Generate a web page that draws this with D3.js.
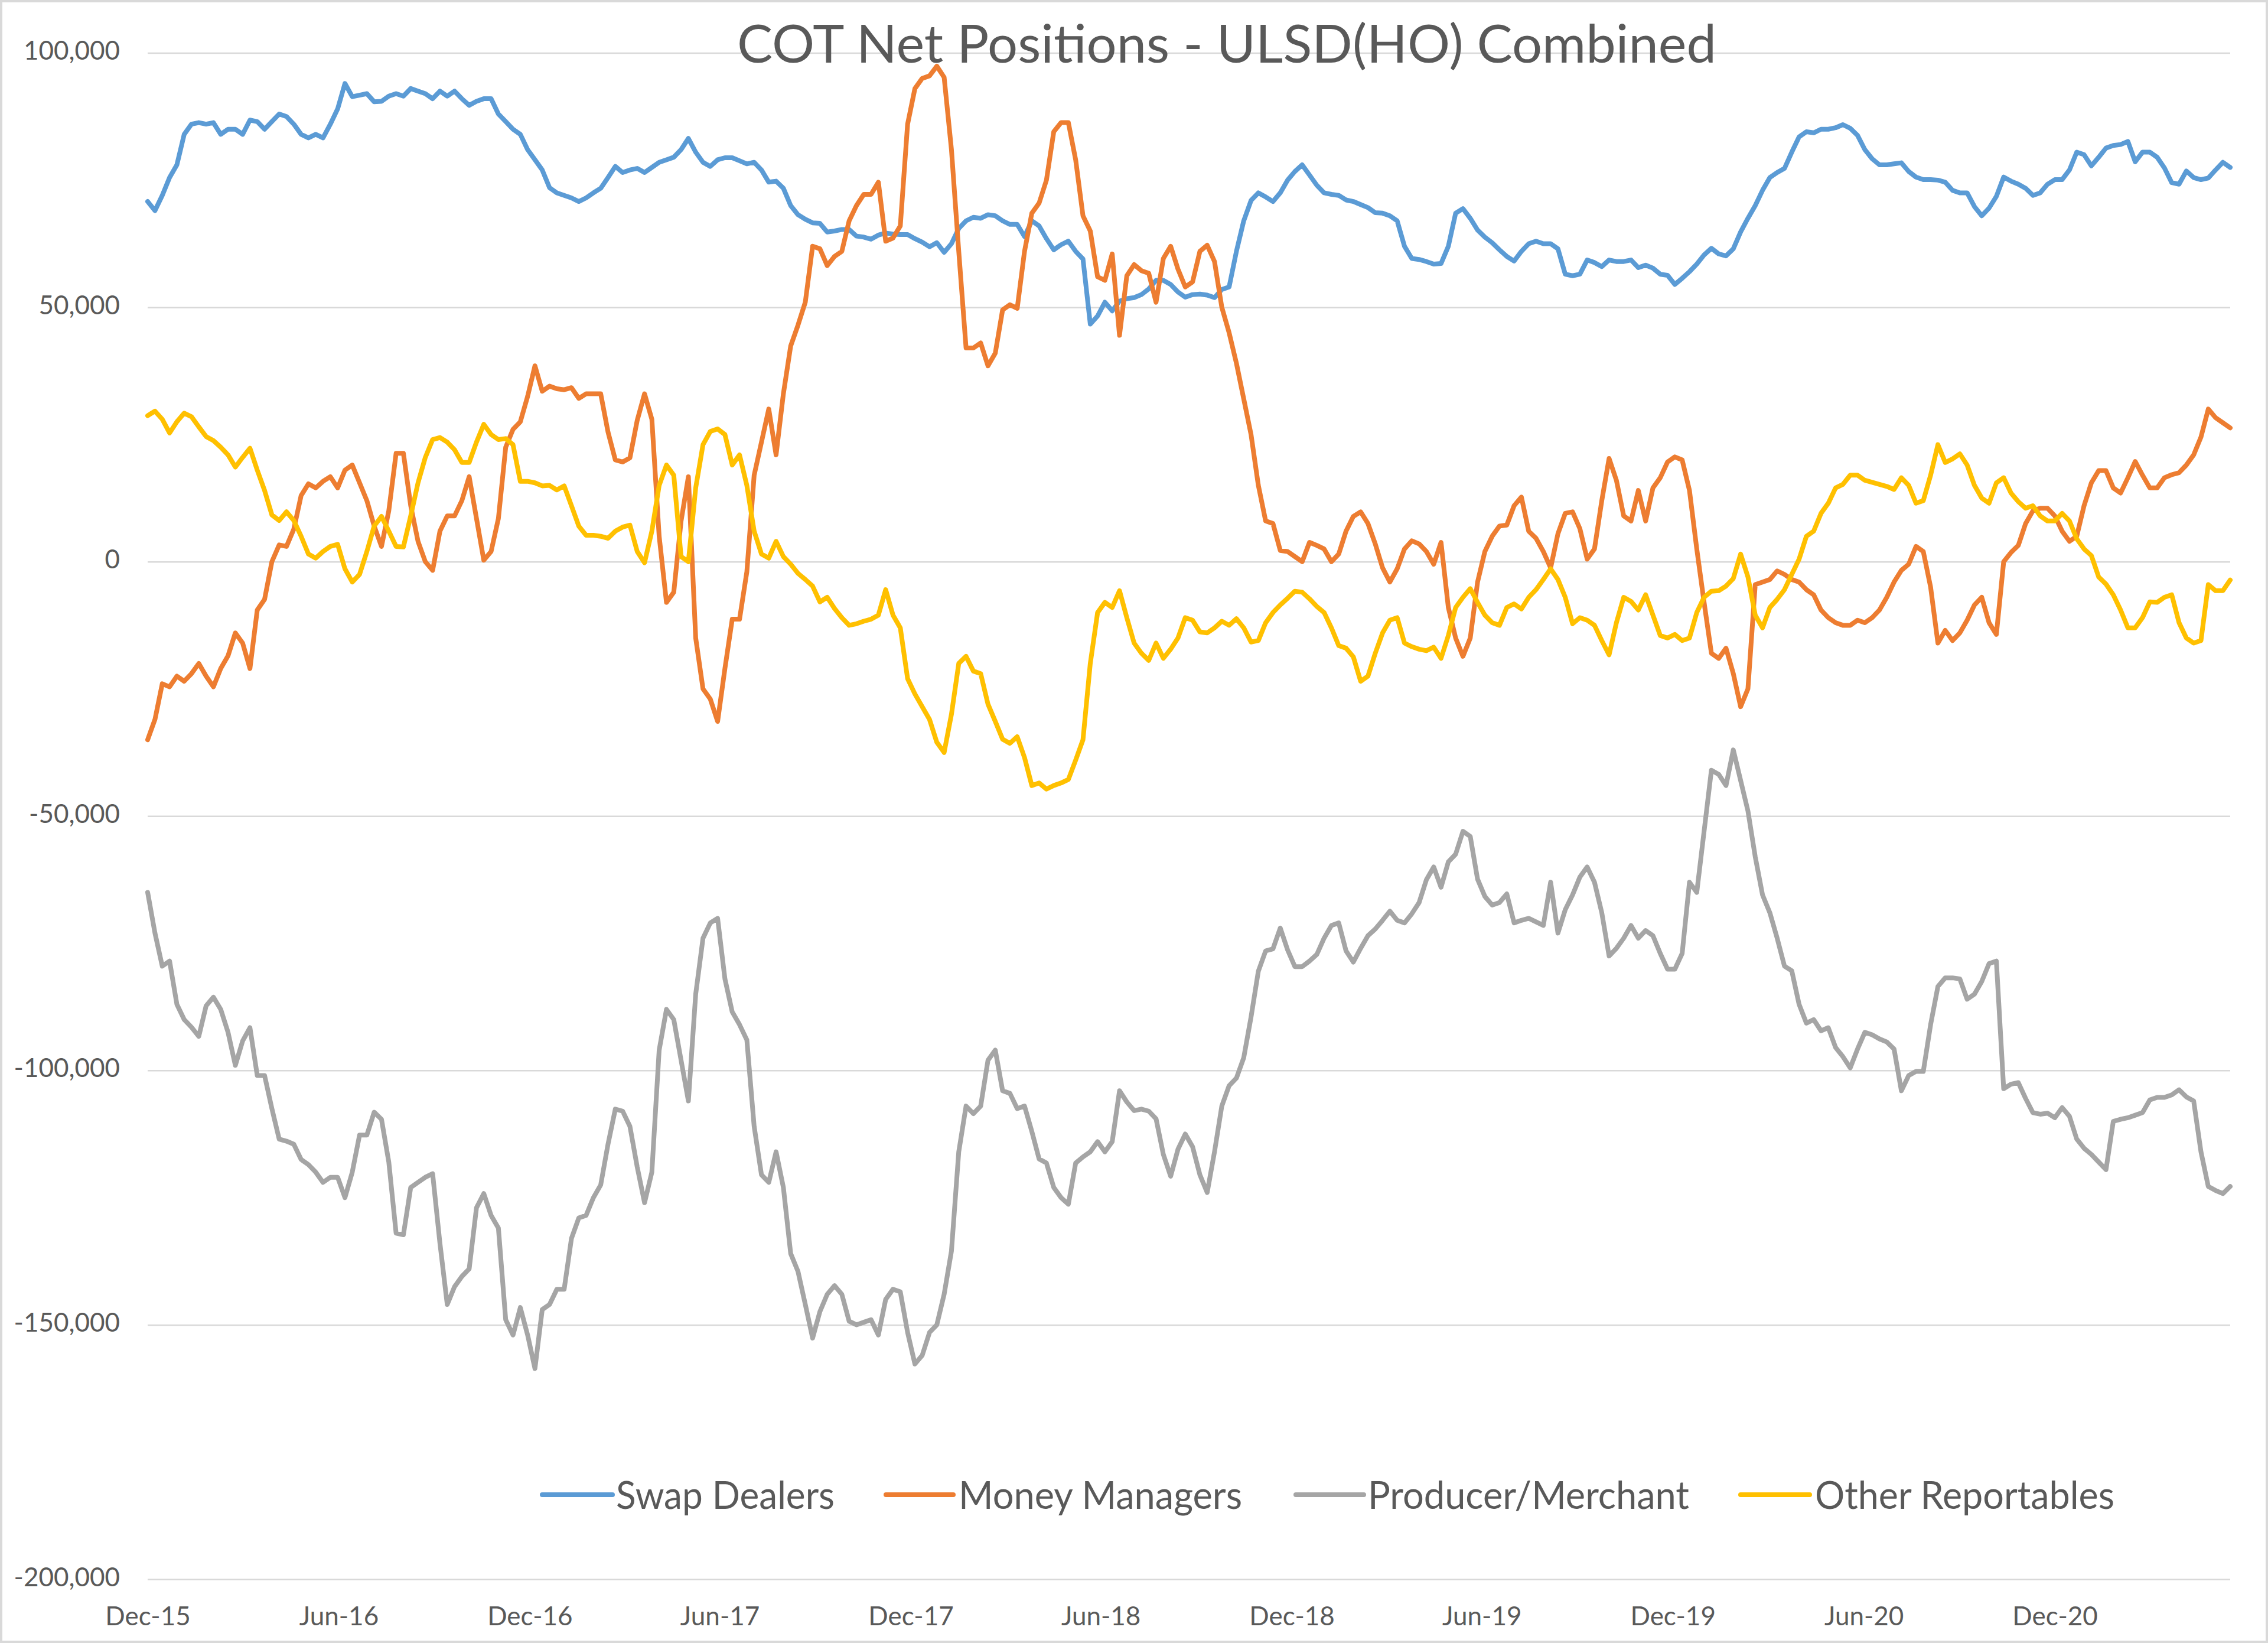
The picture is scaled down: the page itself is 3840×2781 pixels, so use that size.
<!DOCTYPE html>
<html>
<head>
<meta charset="utf-8">
<script src="https://cdn.jsdelivr.net/npm/d3@7"></script>
<style>
  html, body { margin: 0; padding: 0; background: #ffffff; }
  svg { display: block; }
</style>
</head>
<body>
<svg id="chart" width="3840" height="2781"></svg>
<script>
// ---------------- DATA ----------------
const chartTitle = "COT Net Positions - ULSD(HO) Combined";
const seriesNames = ["Swap Dealers", "Money Managers", "Producer/Merchant", "Other Reportables"];
const seriesColors = ["#5B9BD5", "#ED7D31", "#A5A5A5", "#FFC000"];

// Weekly (Tuesday) report dates start here, one value per week
const firstReportDate = "2015-12-01";

// Net positions, thousands of contracts
const swapDealers = [
  70.8, 69, 72, 75.5, 78, 84, 86, 86.3, 86, 86.3,
  84, 85, 85, 84, 86.8, 86.5, 85, 86.5, 88, 87.5,
  86, 84, 83.3, 84, 83.3, 86, 89, 94, 91.4, 91.7,
  92, 90.4, 90.5, 91.5, 92, 91.5, 93, 92.5, 92, 91,
  92.5, 91.5, 92.5, 91, 89.7, 90.5, 91, 91, 88, 86.5,
  85, 84, 81, 79, 77, 73.5, 72.5,
  72, 71.5, 70.8, 71.5, 72.5, 73.4, 75.5, 77.7, 76.5, 77,
  77.3, 76.5, 77.5, 78.5, 79, 79.5, 81, 83.2, 80.5, 78.5,
  77.7, 79, 79.4, 79.4, 78.8, 78.2, 78.5, 77, 74.6, 74.8,
  73.4, 70, 68.2, 67.3, 66.6, 66.5, 64.8, 65, 65.3, 65.3,
  64, 63.8, 63.4, 64.2, 64.6, 64.4, 64.3, 64.3, 63.5, 62.8,
  61.9, 62.7, 60.8, 62.5, 65.5, 67, 67.7,
  67.5, 68.2, 68, 67, 66.3, 66.3, 63.9, 67, 66, 63.5,
  61.3, 62.3, 63, 61, 59.5, 46.7, 48.3, 51, 49.3, 51.2,
  51.7, 51.9, 52.5, 53.6, 55.3, 55.3, 54.5, 53, 52, 52.5,
  52.6, 52.4, 51.9, 53.5, 54, 61, 67, 71, 72.5, 71.7,
  70.8, 72.5, 75, 76.7, 78, 76, 74, 72.5, 72.2, 72,
  71.1, 70.8, 70.2, 69.6, 68.6, 68.5, 68,
  67, 62, 59.6, 59.4, 59, 58.5, 58.6, 62, 68.5, 69.4,
  67.5, 65.2, 63.8, 62.7, 61.3, 60, 59.1, 61, 62.5, 63,
  62.5, 62.5, 61.5, 56.5, 56.2, 56.5, 59.3, 58.8, 58, 59.3,
  59, 59, 59.3, 57.8, 58.3, 57.7, 56.5, 56.3, 54.5, 55.7,
  57, 58.5, 60.3, 61.6, 60.5, 60.1, 61.5, 64.8, 67.5, 70,
  73, 75.5, 76.5, 77.3, 80.5, 83.5, 84.5,
  84.3, 85, 85, 85.3, 85.9, 85.2, 83.8, 81, 79.2, 78,
  78, 78.2, 78.4, 76.7, 75.6, 75.1, 75.1, 75, 74.6, 73,
  72.5, 72.5, 69.8, 68, 69.5, 71.8, 75.6, 74.8, 74.2, 73.4,
  72, 72.5, 74.2, 75.1, 75.1, 77, 80.5, 80, 77.8, 79.5,
  81.3, 81.8, 82, 82.6, 78.6, 80.5, 80.5, 79.5, 77.4, 74.5,
  74.2, 76.8, 75.5, 75.1, 75.4, 77, 78.5, 77.5
];

const moneyManagers = [
  -35, -31, -24, -24.6, -22.5, -23.5, -22, -20, -22.5, -24.6,
  -21, -18.5, -14, -16, -21, -9.5, -7.4, 0, 3.3, 3,
  6.4, 13, 15.3, 14.5, 15.8, 16.7, 14.5, 18, 19, 15.5,
  12, 7, 3, 10, 21.3, 21.3, 11, 4, 0, -1.7,
  6, 9, 9, 12, 16.7, 8.5, 0.3, 2, 8.5, 22.5,
  26, 27.5, 32.5, 38.5, 33.5, 34.5, 34,
  33.8, 34.2, 32.1, 33, 33, 33, 25.5, 20, 19.6, 20.4,
  27.8, 33, 28, 5, -8, -6, 8, 16.7, -15, -25,
  -27, -31.4, -21, -11.3, -11.3, -2, 17, 23.5, 30, 21,
  33, 42.4, 46.5, 51, 62, 61.5, 58.2, 60, 61, 67,
  70, 72.2, 72.2, 74.6, 63, 63.6, 66, 86, 93, 95,
  95.5, 97.4, 95.2, 81, 61, 42, 42,
  43, 38.5, 41, 49.5, 50.5, 49.8, 61, 68.5, 70.5, 75,
  84.5, 86.3, 86.3, 79, 68, 65, 56, 55.3, 60.5, 44.5,
  56.2, 58.4, 57.2, 56.7, 51, 59.6, 62, 57.5, 54, 55,
  61, 62.2, 59, 50, 45, 39, 32, 25, 15, 8,
  7.5, 2.2, 2, 1, 0, 3.8, 3.2, 2.5, 0, 1.5,
  6, 8.9, 9.8, 7.5, 3.5, -1.2, -4,
  -1.4, 2.5, 4.1, 3.5, 2, -0.5, 3.8, -9, -15, -18.6,
  -15, -4, 2, 5, 7, 7.2, 11, 12.7, 6, 4.6,
  2, -1.2, 5.5, 9.5, 9.8, 6.5, 0.5, 2.5, 12, 20.3,
  16, 9, 8, 14, 8, 14.5, 16.5, 19.6, 20.6, 20,
  14, 2.5, -8, -18, -19, -17, -22, -28.5, -25, -4.5,
  -4, -3.5, -1.8, -2.5, -3.5, -4, -5.5,
  -6.5, -9.5, -11, -12, -12.5, -12.5, -11.5, -12, -11, -9.5,
  -7, -4, -1.7, -0.5, 3, 2, -5, -16, -13.5, -15.5,
  -14, -11.5, -8.5, -7, -12, -14.3, 0, 1.8, 3.2, 7.5,
  10, 10.5, 10.5, 9, 6, 4, 5, 11, 15.5, 17.9,
  17.9, 14.5, 13.5, 16.5, 19.7, 17, 14.5, 14.5, 16.5, 17.1,
  17.5, 19, 21, 24.5, 30, 28.3, 27.3, 26.3
];

const producerMerchant = [
  -65, -73, -79.5, -78.5, -87, -90, -91.5, -93.3, -87.3, -85.6,
  -88, -92.5, -99, -94.2, -91.6, -101, -101, -107.5, -113.5, -113.9,
  -114.5, -117.5, -118.5, -120, -122, -121, -121, -125, -120, -112.7,
  -112.7, -108.2, -109.6, -118, -132, -132.3, -123, -122, -121, -120.3,
  -134, -146, -142.5, -140.5, -139, -127, -124.2, -128.5, -131, -149,
  -152, -146.6, -152, -158.6, -147, -146, -143,
  -143, -133, -129, -128.5, -125, -122.5, -114.5, -107.6, -108, -111,
  -119, -126, -120, -96, -88, -90, -98, -106, -85, -74,
  -71, -70.1, -82, -88.5, -91, -94, -111, -120.5, -122, -116,
  -123, -136, -139.5, -146, -152.6, -147.4, -144, -142.3, -144, -149.3,
  -150, -149.5, -149, -152, -145, -143, -143.5, -151.5, -157.7, -156,
  -151.5, -150, -144, -135.5, -116, -107, -108.5,
  -107, -98, -96, -104, -104.5, -107.5, -107, -112, -117.4, -118.2,
  -123, -125, -126.3, -118.2, -117, -116, -114, -116, -114, -104,
  -106.2, -107.9, -107.6, -108, -109.5, -116.5, -120.8, -115.5, -112.5, -115,
  -120.5, -124, -116, -107, -103, -101.5, -97.5, -89.5, -80.5, -76.5,
  -76.1, -72, -76.3, -79.6, -79.6, -78.5, -77.2, -74, -71.5, -71,
  -76.5, -78.7, -76, -73.5, -72.2, -70.5, -68.7,
  -70.5, -71, -69.2, -67, -62.5, -60, -64, -59, -57.5, -53,
  -54, -62.4, -65.8, -67.5, -67, -65.3, -71, -70.5, -70.1, -70.8,
  -71.5, -63, -73, -68.4, -65.5, -62, -60, -63, -69, -77.5,
  -76, -74, -71.5, -74, -72.5, -73.5, -77, -80.1, -80.1, -77,
  -63, -65, -53, -41, -41.8, -44, -37, -43, -49, -58,
  -65.5, -69, -74, -79.5, -80.4, -87, -90.7,
  -90, -92.2, -91.6, -95.5, -97.3, -99.5, -95.8, -92.5, -93, -93.8,
  -94.4, -95.8, -104, -101, -100.2, -100.2, -91, -83.5, -81.8, -81.8,
  -82, -86, -85, -82.5, -79, -78.5, -103.6, -102.7, -102.4, -105.5,
  -108.3, -108.6, -108.4, -109.3, -107.3, -109, -113.5, -115.3, -116.5, -118,
  -119.5, -110, -109.6, -109.3, -108.8, -108.3, -105.8, -105.3, -105.3, -104.8,
  -103.8, -105.2, -106, -116, -122.8, -123.6, -124.2, -122.8
];

const otherReportables = [
  28.7, 29.6, 28, 25.3, 27.5, 29.2, 28.5, 26.5, 24.6, 23.8,
  22.5, 21, 18.6, 20.5, 22.3, 18, 14, 9.2, 8.1, 9.8,
  8.1, 5, 1.5, 0.7, 2, 3, 3.4, -1.4, -4, -2.5,
  2, 7, 8.9, 6, 3, 2.9, 9, 15.5, 20.5, 24,
  24.4, 23.5, 22, 19.5, 19.5, 23.5, 27, 25, 24, 24.2,
  23, 15.8, 15.8, 15.5, 14.9, 15, 14.1,
  14.9, 11, 7, 5.2, 5.2, 5, 4.6, 6, 6.8, 7.2,
  2, -0.2, 6, 15, 19, 17, 1, 0, 14.5, 23,
  25.6, 26.1, 25, 19, 21, 15, 6, 1.5, 0.7, 4,
  1, -0.5, -2.3, -3.5, -4.8, -7.9, -7, -9.2, -11, -12.5,
  -12.2, -11.7, -11.3, -10.5, -5.5, -10.5, -13, -23, -26, -28.5,
  -31, -35.5, -37.5, -30, -20, -18.6, -21.5,
  -22, -28, -31.4, -34.9, -35.7, -34.4, -38.5, -44, -43.5, -44.7,
  -44, -43.5, -42.8, -39, -35, -20, -10, -8, -9, -5.7,
  -11, -16, -18, -19.4, -16, -19, -17.2, -15, -11, -11.5,
  -13.8, -14, -13, -11.7, -12.5, -11.2, -13, -15.8, -15.5, -12,
  -10, -8.5, -7.2, -5.8, -6, -7.3, -8.8, -10, -13, -16.5,
  -17, -18.7, -23.5, -22.5, -18, -14, -11.5,
  -11, -16, -16.7, -17.2, -17.5, -16.8, -19, -14.5, -9, -7,
  -5.3, -8, -10.5, -12, -12.5, -9, -8.3, -9.3, -7, -5.5,
  -3.5, -1.4, -3.5, -7, -12.2, -11, -11.5, -12.5, -15.5, -18.3,
  -12, -7, -7.8, -9.5, -6.5, -10.5, -14.5, -15, -14.3, -15.5,
  -15, -10, -7, -5.8, -5.7, -4.8, -3.3, 1.5, -3, -10.5,
  -13, -9, -7.4, -5.5, -2.5, 0.5, 5,
  6, 9.5, 11.5, 14.5, 15.2, 17, 17, 16, 15.6, 15.2,
  14.8, 14.2, 16.5, 15, 11.5, 12, 17, 23, 19.5, 20.2,
  21.2, 19, 15, 12.5, 11.5, 15.5, 16.5, 13.5, 11.8, 10.5,
  11, 9, 8, 8, 9.5, 8, 4.5, 2.5, 1.2, -3,
  -4.4, -6.5, -9.5, -13, -13, -11, -7.9, -8, -7, -6.5,
  -12, -15, -16, -15.5, -4.5, -5.7, -5.7, -3.6
];

// Axis ticks
const yTickValues = [100, 50, 0, -50, -100, -150, -200];   // thousands
const xTickLabels = ["Dec-15", "Jun-16", "Dec-16", "Jun-17", "Dec-17", "Jun-18",
                     "Dec-18", "Jun-19", "Dec-19", "Jun-20", "Dec-20"];
const xTickDates  = ["2015-12-01", "2016-06-01", "2016-12-01", "2017-06-01", "2017-12-01", "2018-06-01",
                     "2018-12-01", "2019-06-01", "2019-12-01", "2020-06-01", "2020-12-01"];

// ---------------- CHART ----------------
const W = 3840, H = 2781;
const plot = { left: 250, right: 3776, top: 89.6, bottom: 2673 };
const FONT = "Lato, 'Open Sans', 'Noto Sans', sans-serif";
const TEXT = "#595959";
const LINE_W = 8;

const parse = d3.utcParse("%Y-%m-%d");
const start = parse(firstReportDate);
const seriesData = [swapDealers, moneyManagers, producerMerchant, otherReportables];
const nWeeks = swapDealers.length;
const dates = d3.range(nWeeks).map(i => d3.utcDay.offset(start, 7 * i));

const x = d3.scaleUtc().domain([dates[0], dates[nWeeks - 1]]).range([plot.left, plot.right]);
const y = d3.scaleLinear().domain([-200, 100]).range([plot.bottom, plot.top]);

const locale = d3.formatLocale({ decimal: ".", thousands: ",", grouping: [3], currency: ["$", ""], minus: "-" });
const fmt = locale.format(",");

const svg = d3.select("#chart");

svg.append("rect").attr("x", 0).attr("y", 0).attr("width", W).attr("height", H).attr("fill", "#ffffff");
svg.append("rect").attr("x", 2).attr("y", 2).attr("width", W - 4).attr("height", H - 4)
  .attr("fill", "none").attr("stroke", "#d9d9d9").attr("stroke-width", 4);

// Y axis with gridlines
const yAxis = d3.axisLeft(y)
  .tickValues(yTickValues)
  .tickSizeInner(-(plot.right - plot.left))
  .tickSizeOuter(0)
  .tickPadding(47)
  .tickFormat(v => fmt(v * 1000));

const gy = svg.append("g").attr("transform", `translate(${plot.left},0)`).call(yAxis);
gy.select(".domain").remove();
gy.selectAll(".tick line").attr("stroke", "#d9d9d9").attr("stroke-width", 2.5);
gy.selectAll(".tick text")
  .attr("font-family", FONT).attr("font-size", 44).attr("fill", TEXT)
  .attr("dy", "0.25em");

// X axis (labels only)
const xAxis = d3.axisBottom(x)
  .tickValues(xTickDates.map(parse))
  .tickFormat((d, i) => xTickLabels[i])
  .tickSize(0)
  .tickPadding(47);

const gx = svg.append("g").attr("transform", `translate(0,${plot.bottom})`).call(xAxis);
gx.select(".domain").remove();
gx.selectAll(".tick line").remove();
gx.selectAll(".tick text")
  .attr("font-family", FONT).attr("font-size", 44).attr("fill", TEXT);

// Series lines
const line = d3.line()
  .x((d, i) => x(dates[i]))
  .y(d => y(d));

seriesData.forEach((vals, k) => {
  svg.append("path")
    .datum(vals)
    .attr("fill", "none")
    .attr("stroke", seriesColors[k])
    .attr("stroke-width", LINE_W)
    .attr("stroke-linejoin", "round")
    .attr("stroke-linecap", "round")
    .attr("d", line);
});

// Title
svg.append("text")
  .attr("x", 2077).attr("y", 106)
  .attr("text-anchor", "middle")
  .attr("font-family", FONT).attr("font-size", 90).attr("fill", TEXT)
  .attr("textLength", 1658).attr("lengthAdjust", "spacingAndGlyphs")
  .text(chartTitle);

// Legend
const legendY = 2530;
const legendItems = [
  { x1: 918,  x2: 1037, tx: 1043, tw: 370 },
  { x1: 1500, x2: 1614, tx: 1623, tw: 480 },
  { x1: 2194, x2: 2309, tx: 2316, tw: 544 },
  { x1: 2947, x2: 3064, tx: 3073, tw: 507 }
];
const lg = svg.append("g");
legendItems.forEach((it, k) => {
  lg.append("line")
    .attr("x1", it.x1).attr("x2", it.x2).attr("y1", legendY).attr("y2", legendY)
    .attr("stroke", seriesColors[k]).attr("stroke-width", LINE_W).attr("stroke-linecap", "round");
  lg.append("text")
    .attr("x", it.tx).attr("y", legendY).attr("dy", "0.36em")
    .attr("font-family", FONT).attr("font-size", 66).attr("fill", TEXT)
    .attr("textLength", it.tw).attr("lengthAdjust", "spacingAndGlyphs")
    .text(seriesNames[k]);
});
</script>
</body>
</html>
